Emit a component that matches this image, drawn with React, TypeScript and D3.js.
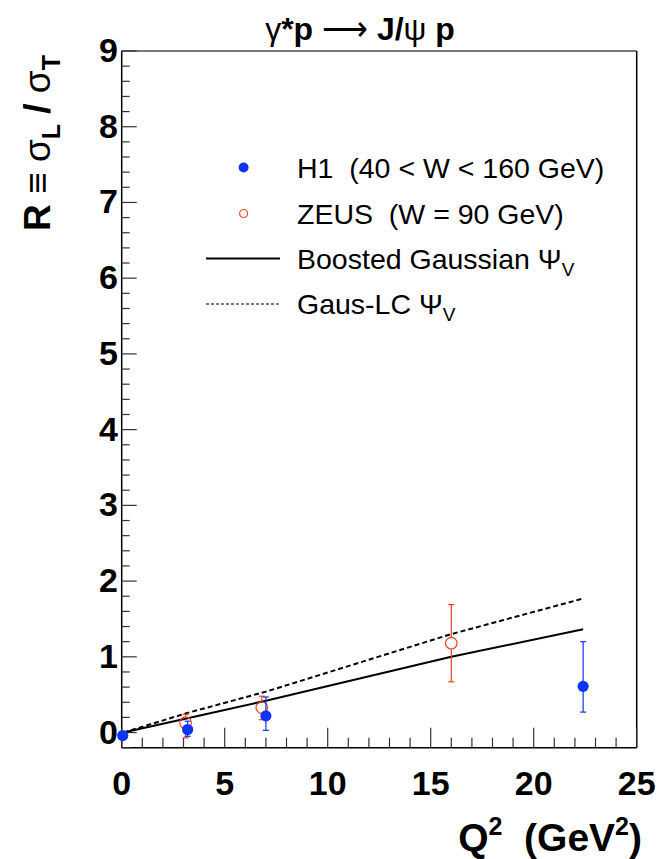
import React from "react";
import * as d3 from "d3";

const xTicks = [0, 5, 10, 15, 20, 25];
const yTicks = [0, 1, 2, 3, 4, 5, 6, 7, 8, 9];

// H1 data (Q2, R, errUp, errDown)
const h1Q2 = [0.05, 3.2, 7.0, 22.4];
const h1R = [-0.04, 0.04, 0.22, 0.61];
const h1ErrUp = [0.0, 0.11, 0.25, 0.59];
const h1ErrDn = [0.0, 0.09, 0.19, 0.34];

// ZEUS data
const zeusQ2 = [3.1, 6.8, 16.0];
const zeusR = [0.13, 0.33, 1.18];
const zeusErrUp = [0.11, 0.15, 0.51];
const zeusErrDn = [0.2, 0.16, 0.51];

// Model curves
const modelQ2 = [0.08, 3.2, 7.0, 16.0, 22.4];
const boostedR = [0.0, 0.19, 0.42, 1.0, 1.365];
const gausLCR = [0.0, 0.26, 0.54, 1.3, 1.77];

const W = 669;
const H = 859;
const left = 121.7;
const right = 636.7;
const top = 51;
const bottom = 747.7;

const blue = "#1034f5";
const red = "#f2401e";

export default function App() {
  const x = d3.scaleLinear().domain([0, 25]).range([left, right]);
  const y = d3.scaleLinear().domain([-0.2, 9]).range([bottom, top]);

  const line = d3
    .line<[number, number]>()
    .x((d) => x(d[0]))
    .y((d) => y(d[1]));

  const boosted = modelQ2.map((q, i) => [q, boostedR[i]] as [number, number]);
  const gaus = modelQ2.map((q, i) => [q, gausLCR[i]] as [number, number]);

  const xMinor = d3.range(0, 25.001, 1);
  const yMinor = d3.range(-0.2, 9.001, 0.2);

  const font = "Liberation Sans, Arial, Helvetica, sans-serif";

  return (
    <svg
      width={W}
      height={H}
      style={{ position: "absolute", left: 0, top: 0, display: "block", background: "#fff" }}
      fontFamily={font}
    >
      <rect x={0} y={0} width={W} height={H} fill="#fff" />
      {/* title */}
      <text x={360} y={40} textAnchor="middle" fontSize={32} fontWeight="bold">
        <tspan fontWeight="normal">γ</tspan>*p <tspan fontWeight="normal">⟶</tspan> J/<tspan fontWeight="normal">ψ</tspan> p
      </text>

      {/* frame */}
      <line x1={left} x2={right} y1={top} y2={top} stroke="#777" strokeWidth={2} />
      <line x1={right} x2={right} y1={top} y2={bottom} stroke="#000" strokeWidth={1.5} />
      <line x1={left} x2={left} y1={top} y2={bottom} stroke="#000" strokeWidth={1.5} />
      <line x1={left} x2={right} y1={bottom} y2={bottom} stroke="#000" strokeWidth={1.5} />

      {/* x ticks */}
      {xMinor.map((v) => {
        const major = Math.abs(v % 5) < 1e-6;
        return (
          <line
            key={"xt" + v}
            x1={x(v)}
            x2={x(v)}
            y1={bottom}
            y2={bottom - (major ? 20 : 10)}
            stroke="#333"
            strokeWidth={1.2}
          />
        );
      })}
      {xTicks.map((v) => (
        <text key={"xl" + v} x={x(v)} y={795} textAnchor="middle" fontSize={34} fontWeight="bold">
          {v}
        </text>
      ))}

      {/* y ticks */}
      {yMinor.map((v) => {
        const r = Math.round(v * 5) / 5;
        const major = Math.abs(r - Math.round(r)) < 1e-6;
        return (
          <line
            key={"yt" + r}
            x1={left}
            x2={left + (major ? 15 : 8)}
            y1={y(r)}
            y2={y(r)}
            stroke="#333"
            strokeWidth={1.2}
          />
        );
      })}
      {yTicks.map((v) => (
        <text key={"yl" + v} x={118} y={y(v) + 11} textAnchor="end" fontSize={34} fontWeight="bold">
          {v}
        </text>
      ))}

      {/* axis titles */}
      <text x={642} y={851} textAnchor="end" fontSize={39} fontWeight="bold">
        Q<tspan fontSize={25} dy={-16}>2</tspan>
        <tspan dy={16}>{"\u00a0\u00a0(GeV"}</tspan>
        <tspan fontSize={25} dy={-16}>2</tspan>
        <tspan dy={16}>)</tspan>
      </text>
      <text
        transform="translate(50,55) rotate(-90)"
        textAnchor="end"
        fontSize={37}
        fontWeight="bold"
      >
        R <tspan fontWeight="normal">≡</tspan> <tspan fontWeight="normal">σ</tspan>
        <tspan fontSize={25} dy={10}>L</tspan>
        <tspan dy={-10}> / </tspan>
        <tspan fontWeight="normal">σ</tspan>
        <tspan fontSize={25} dy={10}>T</tspan>
      </text>

      {/* model lines */}
      <path d={line(gaus) || ""} fill="none" stroke="#000" strokeWidth={2} strokeDasharray="5,3" />
      <path d={line(boosted) || ""} fill="none" stroke="#000" strokeWidth={2} />

      {/* ZEUS */}
      {zeusQ2.map((q, i) => {
        const cx = x(q);
        const cy = y(zeusR[i]);
        const yt = y(zeusR[i] + zeusErrUp[i]);
        const yb = y(zeusR[i] - zeusErrDn[i]);
        return (
          <g key={"z" + i} stroke={red} strokeWidth={1.2}>
            <line x1={cx} x2={cx} y1={yt} y2={cy - 6} />
            <line x1={cx} x2={cx} y1={cy + 6} y2={yb} />
            <line x1={cx - 3} x2={cx + 3} y1={yt} y2={yt} />
            <line x1={cx - 3} x2={cx + 3} y1={yb} y2={yb} />
            <circle cx={cx} cy={cy} r={5.8} fill="none" />
          </g>
        );
      })}

      {/* H1 */}
      {h1Q2.map((q, i) => {
        const cx = x(q);
        const cy = y(h1R[i]);
        const yt = y(h1R[i] + h1ErrUp[i]);
        const yb = y(h1R[i] - h1ErrDn[i]);
        return (
          <g key={"h" + i}>
            {h1ErrUp[i] > 0 && (
              <g stroke={blue} strokeWidth={1.2}>
                <line x1={cx} x2={cx} y1={yt} y2={yb} />
                <line x1={cx - 3} x2={cx + 3} y1={yt} y2={yt} />
                <line x1={cx - 3} x2={cx + 3} y1={yb} y2={yb} />
              </g>
            )}
            <circle cx={cx} cy={cy} r={5.6} fill={blue} />
          </g>
        );
      })}

      {/* legend */}
      <g fontSize={28.5}>
        <circle cx={243.6} cy={167.5} r={5} fill={blue} />
        <text x={297} y={177.5}>
          {"H1\u00a0\u00a0(40 < W < 160 GeV)"}
        </text>
        <circle cx={243.6} cy={213.5} r={4} fill="none" stroke={red} strokeWidth={1.2} />
        <text x={297} y={223.5}>
          {"ZEUS\u00a0\u00a0(W = 90 GeV)"}
        </text>
        <line x1={206} x2={280} y1={258.5} y2={258.5} stroke="#000" strokeWidth={2} />
        <text x={297} y={268.5}>
          Boosted Gaussian <tspan>Ψ</tspan>
          <tspan fontSize={19} dy={7}>V</tspan>
        </text>
        <line x1={206} x2={280} y1={304} y2={304} stroke="#000" strokeWidth={1.2} strokeDasharray="3,2" />
        <text x={297} y={314}>
          Gaus-LC <tspan>Ψ</tspan>
          <tspan fontSize={19} dy={7}>V</tspan>
        </text>
      </g>
    </svg>
  );
}
